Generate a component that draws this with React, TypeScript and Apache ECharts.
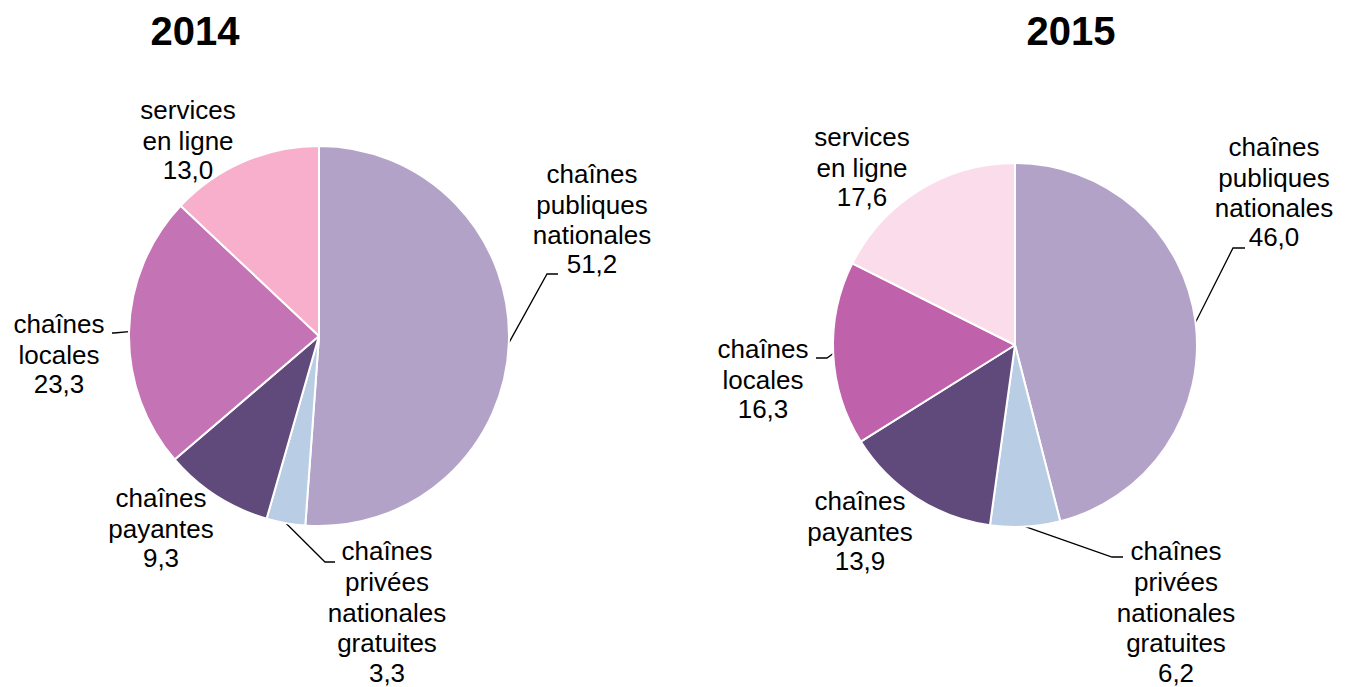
import React, { useEffect, useRef } from "react";
import * as echarts from "echarts";

// Audience shares by channel type, two years side by side
const categories = [
  "chaînes\npubliques\nnationales",
  "chaînes\nprivées\nnationales\ngratuites",
  "chaînes\npayantes",
  "chaînes\nlocales",
  "services\nen ligne",
];
const years = ["2014", "2015"];
const values2014 = [51.2, 3.3, 9.3, 23.3, 13.0];
const values2015 = [46.0, 6.2, 13.9, 16.3, 17.6];
const colors2014 = ["#B3A2C7", "#B9CDE5", "#604A7B", "#C473B5", "#F7AFCB"];
const colors2015 = ["#B3A2C7", "#B9CDE5", "#604A7B", "#BF61AB", "#FADCEB"];

const FONT = "'Liberation Sans', Arial, Helvetica, sans-serif";
const LINE_H = 30.6;
const VALUE_LINE_H = 28;

// Label placement: centre x, centre y of the first text line, optional leader elbow + end
type LabelSpot = { x: number; y: number; guide?: number[][] };
const spots2014: LabelSpot[] = [
  { x: 592, y: 174, guide: [[547, 274], [558, 274]] },
  { x: 387, y: 551.5, guide: [[325, 562], [335, 562]] },
  { x: 161, y: 498 },
  { x: 59, y: 324, guide: [[114, 333], [112, 333]] },
  { x: 188, y: 110 },
];
const spots2015: LabelSpot[] = [
  { x: 1274, y: 147, guide: [[1233, 248], [1245, 248]] },
  { x: 1176, y: 551.5, guide: [[1112, 557], [1123, 557]] },
  { x: 860, y: 501 },
  { x: 763, y: 349, guide: [[827, 358], [816, 358]] },
  { x: 862, y: 137 },
];

const formatValue = (v: number) => v.toFixed(1).replace(".", ",");

function buildPie(
  values: number[],
  colors: string[],
  spots: LabelSpot[],
  center: number[],
  radius: number
) {
  return {
    type: "pie",
    center,
    radius,
    startAngle: 90,
    clockwise: true,
    avoidLabelOverlap: false,
    silent: true,
    emphasis: { disabled: true },
    itemStyle: { borderColor: "#ffffff", borderWidth: 2 },
    label: {
      show: true,
      position: "outside",
      alignTo: "none",
      color: "#000000",
      fontFamily: FONT,
      fontSize: 26,
      lineHeight: LINE_H,
      width: 180,
      overflow: "none",
      formatter: (p: any) => `${p.name}\n{v|${formatValue(p.value)}}`,
      rich: {
        v: {
          color: "#000000",
          fontFamily: FONT,
          fontSize: 26,
          lineHeight: VALUE_LINE_H,
        },
      },
    },
    labelLine: {
      show: true,
      length: 10,
      length2: 10,
      lineStyle: { color: "#000000", width: 1.3 },
    },
    labelLayout: (params: any) => {
      const spot = spots[params.dataIndex];
      const out: any = {
        x: spot.x,
        y: spot.y - LINE_H / 2,
        align: "center",
        verticalAlign: "top",
      };
      if (spot.guide && params.labelLinePoints && params.labelLinePoints.length) {
        out.labelLinePoints = [params.labelLinePoints[0], ...spot.guide];
      }
      return out;
    },
    data: categories.map((name, i) => ({
      name,
      value: values[i],
      itemStyle: { color: colors[i] },
      labelLine: { show: !!spots[i].guide },
    })),
  };
}

export default function App() {
  const ref = useRef<HTMLDivElement>(null);

  useEffect(() => {
    if (!ref.current) return;
    const chart = echarts.init(ref.current, null, { renderer: "svg" });
    const titleStyle = {
      fontFamily: FONT,
      fontSize: 40,
      fontWeight: "bold" as const,
      color: "#000000",
    };
    chart.setOption({
      animation: false,
      backgroundColor: "#ffffff",
      title: [
        {
          text: years[0],
          left: 195,
          top: 30.5,
          textAlign: "center",
          textVerticalAlign: "middle",
          padding: 0,
          textStyle: titleStyle,
        },
        {
          text: years[1],
          left: 1071,
          top: 30.5,
          textAlign: "center",
          textVerticalAlign: "middle",
          padding: 0,
          textStyle: titleStyle,
        },
      ],
      series: [
        buildPie(values2014, colors2014, spots2014, [319, 336], 190),
        buildPie(values2015, colors2015, spots2015, [1015, 345], 182),
      ],
    });
    return () => chart.dispose();
  }, []);

  return (
    <div
      ref={ref}
      style={{ position: "fixed", left: 0, top: 0, width: 1349, height: 687, background: "#fff" }}
    />
  );
}
